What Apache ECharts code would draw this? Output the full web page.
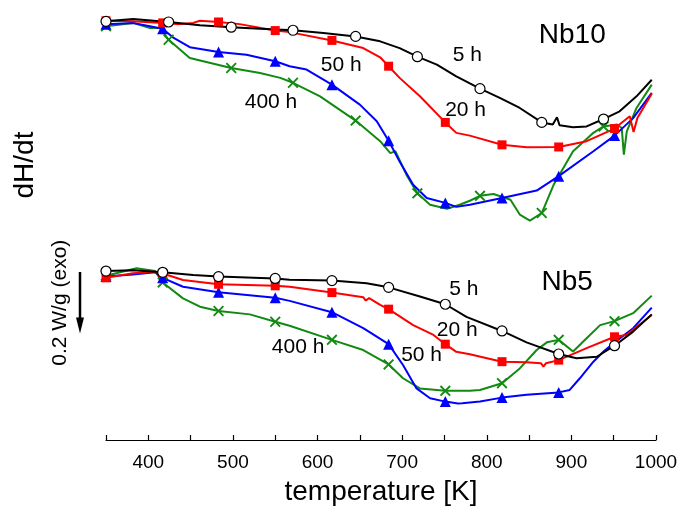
<!DOCTYPE html>
<html>
<head>
<meta charset="utf-8">
<script src="https://cdn.jsdelivr.net/npm/echarts@6/dist/echarts.min.js"></script>
<style>
  html, body { margin: 0; padding: 0; background: #fff; }
  #chart { width: 688px; height: 514px; }
</style>
</head>
<body>
<div id="chart"></div>
<script>
const FONT = '"Liberation Sans", Arial, Helvetica, sans-serif';

// Temperature axis (K)
const xMin = 350, xMax = 1000;
const xTickLabels = [400, 500, 600, 700, 800, 900, 1000];

// Temperatures at which the curve symbols sit
const marksNb10Slow = [350, 424, 498, 571, 645, 718, 792, 865, 938];        // 5 h, 400 h
const marksNb10Fast = [350, 417, 483, 550, 617, 684, 751, 818, 885, 951];   // 20 h, 50 h
const marksNb5 = [350, 417, 483, 550, 617, 684, 751, 818, 885, 951];

// DSC traces, [T (K), dH/dt (W/g, offset)] ; Nb10 sample
const nb10_5h = [
  [350,-0.037],[382,-0.029],[424,-0.039],[461,-0.050],[498,-0.056],[532,-0.061],
  [571,-0.066],[607,-0.075],[645,-0.086],[674,-0.102],[697,-0.124],[718,-0.152],
  [741,-0.178],[764,-0.216],[780,-0.239],[792,-0.256],[816,-0.287],[839,-0.319],
  [865,-0.366],[878,-0.373],[883,-0.349],[886,-0.375],[902,-0.382],[918,-0.379],
  [938,-0.355],[957,-0.330],[977,-0.281],[995,-0.227]
];
const nb10_20h = [
  [350,-0.035],[382,-0.037],[417,-0.042],[434,-0.046],[453,-0.042],[461,-0.035],
  [483,-0.039],[508,-0.046],[550,-0.067],[567,-0.072],[617,-0.099],[654,-0.124],
  [674,-0.154],[684,-0.183],[697,-0.221],[721,-0.281],[751,-0.366],[764,-0.400],
  [780,-0.409],[818,-0.439],[847,-0.447],[885,-0.446],[918,-0.427],[951,-0.386],
  [969,-0.346],[973.5,-0.397],[978,-0.352],[995,-0.273]
];
const nb10_50h = [
  [350,-0.046],[382,-0.042],[417,-0.061],[430,-0.091],[449,-0.121],[483,-0.137],
  [516,-0.146],[550,-0.167],[567,-0.183],[587,-0.194],[617,-0.243],[650,-0.308],
  [670,-0.362],[684,-0.426],[697,-0.493],[713,-0.569],[729,-0.612],[751,-0.628],
  [764,-0.641],[780,-0.634],[818,-0.612],[859,-0.588],[885,-0.541],[926,-0.460],
  [951,-0.409],[973,-0.352],[995,-0.270]
];
const nb10_400h = [
  [350,-0.053],[382,-0.042],[402,-0.059],[414,-0.059],[424,-0.097],[449,-0.156],
  [498,-0.189],[532,-0.205],[556,-0.221],[571,-0.237],[603,-0.281],[645,-0.360],
  [674,-0.427],[686,-0.466],[692,-0.460],[705,-0.536],[718,-0.597],[733,-0.634],
  [753,-0.647],[768,-0.634],[780,-0.621],[792,-0.605],[808,-0.599],[828,-0.618],
  [839,-0.666],[851,-0.686],[865,-0.661],[879,-0.569],[902,-0.460],[926,-0.400],
  [938,-0.379],[954,-0.373],[959.5,-0.384],[962,-0.471],[965.5,-0.395],[977,-0.319],
  [995,-0.243]
];

// Nb5 sample
const nb5_5h = [
  [350,-0.850],[382,-0.847],[417,-0.854],[453,-0.863],[483,-0.868],[550,-0.874],
  [567,-0.878],[617,-0.881],[658,-0.890],[684,-0.903],[721,-0.933],[751,-0.958],
  [776,-0.999],[818,-1.045],[847,-1.082],[885,-1.120],[906,-1.134],[930,-1.129],
  [951,-1.093],[973,-1.047],[995,-0.991]
];
const nb5_20h = [
  [350,-0.872],[382,-0.857],[408,-0.852],[417,-0.858],[441,-0.879],[483,-0.893],
  [550,-0.898],[567,-0.901],[617,-0.920],[654,-0.935],[657,-0.946],[661,-0.938],
  [674,-0.960],[684,-0.974],[713,-1.026],[737,-1.058],[751,-1.088],[764,-1.113],
  [780,-1.121],[818,-1.145],[847,-1.147],[864,-1.150],[867,-1.161],[870,-1.150],
  [885,-1.140],[918,-1.101],[951,-1.064],[965,-1.058],[995,-0.993]
];
const nb5_50h = [
  [350,-0.868],[382,-0.861],[408,-0.854],[417,-0.872],[441,-0.901],[483,-0.919],
  [550,-0.937],[567,-0.947],[617,-0.984],[654,-1.036],[684,-1.088],[701,-1.156],
  [717,-1.232],[733,-1.264],[751,-1.275],[766,-1.281],[768,-1.286],[771,-1.280],
  [792,-1.275],[818,-1.262],[847,-1.253],[885,-1.245],[898,-1.237],[910,-1.199],
  [926,-1.145],[938,-1.112],[951,-1.082],[973,-1.036],[995,-0.969]
];
const nb5_400h = [
  [350,-0.865],[386,-0.841],[408,-0.850],[417,-0.887],[441,-0.939],[461,-0.966],
  [483,-0.980],[520,-0.991],[550,-1.015],[567,-1.028],[617,-1.074],[654,-1.107],
  [684,-1.154],[701,-1.199],[721,-1.232],[751,-1.240],[780,-1.240],[792,-1.237],
  [818,-1.215],[839,-1.167],[859,-1.107],[871,-1.082],[885,-1.074],[902,-1.112],
  [918,-1.069],[934,-1.026],[951,-1.013],[973,-0.987],[995,-0.930]
];

// Curve annotations: [T, dH/dt, text]
const annotations = [
  [901, -0.081, 'Nb10'],
  [777, -0.147, '5 h'],
  [775, -0.326, '20 h'],
  [628, -0.179, '50 h'],
  [545, -0.300, '400 h'],
  [895, -0.887, 'Nb5'],
  [773, -0.910, '5 h'],
  [765, -1.042, '20 h'],
  [723, -1.123, '50 h'],
  [577, -1.099, '400 h']
];

// Heat-flow scale bar: top of arrow and its length (W/g)
const scaleBarTop = -0.853;
const scaleBarSpan = 0.2;

const crossPath = 'path://M0,1.2L1.2,0L5,3.8L8.8,0L10,1.2L6.2,5L10,8.8L8.8,10L5,6.2L1.2,10L0,8.8L3.8,5Z';

const styles = {
  '5h':   { color: '#000000', symbol: 'circle',   size: 10, fill: '#ffffff', border: 1.2 },
  '20h':  { color: '#ff0000', symbol: 'rect',     size: 9,  fill: '#ff0000', border: 0 },
  '50h':  { color: '#0000ff', symbol: 'triangle', size: 11, fill: '#0000ff', border: 0 },
  '400h': { color: '#118a11', symbol: crossPath,  size: 11, fill: '#118a11', border: 0 }
};

function makeSeries(name, pts, marks, st) {
  const data = pts.map(p => {
    if (marks.includes(p[0])) {
      return {
        value: p,
        symbol: st.symbol,
        symbolSize: st.size,
        itemStyle: { color: st.fill, borderColor: st.color, borderWidth: st.border }
      };
    }
    return { value: p, symbol: 'none' };
  });
  return {
    name: name,
    type: 'line',
    data: data,
    showSymbol: true,
    smooth: false,
    lineStyle: { color: st.color, width: 2 },
    itemStyle: { color: st.fill },
    emphasis: { disabled: true },
    z: 2
  };
}

const series = [
  makeSeries('Nb10 400 h', nb10_400h, marksNb10Slow, styles['400h']),
  makeSeries('Nb10 50 h',  nb10_50h,  marksNb10Fast, styles['50h']),
  makeSeries('Nb10 20 h',  nb10_20h,  marksNb10Fast, styles['20h']),
  makeSeries('Nb10 5 h',   nb10_5h,   marksNb10Slow, styles['5h']),
  makeSeries('Nb5 400 h',  nb5_400h,  marksNb5, styles['400h']),
  makeSeries('Nb5 50 h',   nb5_50h,   marksNb5, styles['50h']),
  makeSeries('Nb5 20 h',   nb5_20h,   marksNb5, styles['20h']),
  makeSeries('Nb5 5 h',    nb5_5h,    marksNb5, styles['5h'])
];

series.push({
  name: 'labels',
  type: 'scatter',
  symbolSize: 1,
  silent: true,
  z: 5,
  itemStyle: { opacity: 0 },
  data: annotations.map(a => ({
    value: [a[0], a[1]],
    label: {
      show: true,
      position: 'inside',
      formatter: a[2],
      fontFamily: FONT,
      fontSize: a[2].startsWith('Nb') ? 28 : 21,
      color: '#000000',
      opacity: 1
    }
  }))
});

const chart = echarts.init(document.getElementById('chart'), null, { renderer: 'canvas' });

chart.setOption({
  animation: false,
  backgroundColor: '#ffffff',
  grid: { left: 106, right: 32, top: 10, bottom: 74 },
  xAxis: {
    type: 'value',
    min: xMin,
    max: xMax,
    interval: 50,
    position: 'bottom',
    axisLine: { show: true, onZero: false, lineStyle: { color: '#000', width: 1.2 } },
    axisTick: { show: true, inside: true, length: 5, lineStyle: { color: '#000', width: 1.2 } },
    axisLabel: {
      formatter: v => (xTickLabels.includes(v) ? String(v) : ''),
      fontFamily: FONT,
      fontSize: 19,
      color: '#000',
      margin: 13
    },
    splitLine: { show: false },
    name: 'temperature [K]',
    nameLocation: 'middle',
    nameGap: 38,
    nameTextStyle: { fontFamily: FONT, fontSize: 28, color: '#000' }
  },
  yAxis: {
    type: 'value',
    min: -1.4,
    max: 0,
    show: false
  },
  series: series
});

// Side labels and the heat-flow scale arrow, placed through the y scale
const yTop = chart.convertToPixel({ yAxisIndex: 0 }, scaleBarTop);
const yBot = chart.convertToPixel({ yAxisIndex: 0 }, scaleBarTop - scaleBarSpan);
const arrowX = 80;
const headLen = 16;

chart.setOption({
  graphic: [
    {
      type: 'text',
      x: 25, y: 165,
      rotation: Math.PI / 2,
      style: { text: 'dH/dt', font: '28px ' + FONT, fill: '#000', align: 'center', verticalAlign: 'middle' }
    },
    {
      type: 'text',
      x: 60, y: (yTop + yBot) / 2,
      rotation: Math.PI / 2,
      style: { text: '0.2 W/g (exo)', font: '21px ' + FONT, fill: '#000', align: 'center', verticalAlign: 'middle' }
    },
    {
      type: 'line',
      shape: { x1: arrowX, y1: yTop, x2: arrowX, y2: yBot - headLen + 2 },
      style: { stroke: '#000', lineWidth: 2.5 }
    },
    {
      type: 'polygon',
      shape: { points: [[arrowX - 4, yBot - headLen], [arrowX + 4, yBot - headLen], [arrowX, yBot]] },
      style: { fill: '#000' }
    }
  ]
});
</script>
</body>
</html>
